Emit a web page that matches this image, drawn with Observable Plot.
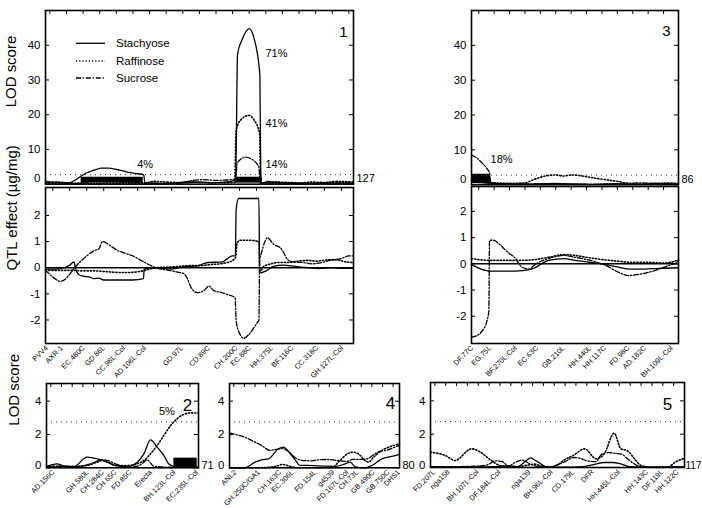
<!DOCTYPE html>
<html><head><meta charset="utf-8">
<script src="https://cdn.jsdelivr.net/npm/d3@7"></script>
<script src="https://cdn.jsdelivr.net/npm/@observablehq/plot@0.6"></script>
<style>
body{margin:0;background:#fff;}
#fig{position:relative;width:702px;height:508px;overflow:hidden;background:#fff;font-family:"Liberation Sans",Arial,sans-serif;-webkit-font-smoothing:antialiased;}
</style></head><body><div id="fig"></div>
<script>
// ---------------- DATA ----------------
const seriesNames = ["Stachyose", "Raffinose", "Sucrose"];
const lodThreshold = 2.75;
const chrLength = {c1: 127, c2: 71, c3: 86, c4: 80, c5: 117};

// chromosome markers (cM)
const chr1Markers = ["PVV4","AXR-1","EC.480C","GD.86L","CC.98L-Col","AD.106L-Col","GD.97L","CD.89C","CH.200C","EC.88C","HH.375L","BF.116C","CC.318C","GH.127L-Col"];
const chr1MarkerCM = [0.8,7,16,24.3,32.6,41.2,56.5,67.6,79,84.5,93.6,101.9,112.2,122.5];
const chr3Markers = ["DF.77C","EG.75L","BF.270L-Col","EC.63C","GB.210L","HH.440L","HH.117C","FD.98C","AD.182C","BH.109L-Col"];
const chr3MarkerCM = [0.5,8,18.5,27.5,38.5,49.5,55.7,65.4,72.3,83.4];
const chr2Markers = ["AD.156C","GH.580L","CH.284C","CH.65C","FD.85C","Erecta","BH.123L-Col","EC.235L-Col"];
const chr2MarkerCM = [3.5,19.5,26.5,32.5,39.5,49,60,70.5];
const chr4Markers = ["ANL2","GH.250C/GA1","CH.163C","EC.306L","FD.154L","g4539","FD.167L-Col","CH.73L","GB.490C","GB.750C","DHS1"];
const chr4MarkerCM = [3,14,24,30,40.7,49,55.7,60.4,68,75,80];
const chr5Markers = ["FD.207L","nga158","BH.107L-Col","DF.184L-Col","nga139","BH.96L-Col","CD.179L","DFR","HH.445L-Col","HH.143C","DF.119L","HH.122C"];
const chr5MarkerCM = [2,8.6,22,32,45.8,56,66,75,87,100,107,114];

// LOD profiles [cM, LOD]
const chr1LodStachyose = [[0,0.8],[3,0.6],[6,0.5],[9,0.4],[11,0.7],[13,1.5],[15,2.5],[17,3.3],[19,3.8],[21,4.3],[23,4.6],[26,4.6],[29,4.3],[32,3.8],[35,3.3],[38,3.0],[40.5,2.7],[41,0.3],[45,0.3],[50,0.2],[55,0.3],[60,0.5],[64,0.6],[68,0.4],[72,0.5],[76,0.7],[78.4,1.5],[79.2,37.5],[81,41.5],[84,44.8],[86,42],[88.4,31.5],[88.8,0.5],[92,0.3],[100,0.3],[110,0.2],[115,0.4],[120,0.3],[127,0.3]];
const chr1LodRaffinose = [[0,0.3],[10,0.3],[20,0.2],[30,0.3],[40,0.3],[45,0.8],[50,0.6],[55,0.5],[60,0.7],[65,0.5],[70,0.4],[78,0.5],[78.6,15.5],[80.5,18.5],[83.8,19.8],[86,18.5],[88.3,14.5],[88.7,0.3],[95,0.6],[100,0.5],[105,0.4],[110,0.6],[115,0.5],[120,0.8],[127,0.6]];
const chr1LodSucrose = [[0,0.5],[6,0.6],[12,0.2],[20,0.9],[25,1.0],[30,0.8],[40,0.4],[50,0.2],[56,0.5],[60,1.0],[65,1.3],[70,1.1],[75,1.2],[78.5,1.5],[79,5.9],[80.5,7.2],[82.5,7.8],[85,7.2],[88,4.9],[88.5,0.3],[92,0.8],[96,0.5],[100,0.3],[110,0.2],[120,0.4],[127,0.5]];

const chr3LodStachyose = [[0,0.8],[8,0.4],[15,0.2],[25,0.1],[34,0.4],[40,0.2],[50,0.1],[60,0.2],[70,0.1],[80,0.2],[86,0.1]];
const chr3LodRaffinose = [[0,1.0],[8,0.6],[15,0.4],[22,0.5],[26,1.5],[30,2.4],[35,2.8],[38,2.5],[42,2.8],[46,2.5],[52,1.8],[58,1.2],[62,0.8],[65,0.3],[70,0.2],[78,0.4],[83,0.5],[86,0.3]];
const chr3LodSucrose = [[0,8.5],[2,7.8],[4,6.5],[6,5],[7.5,3.3],[8,0.5],[12,0.3],[20,0.2],[30,0.3],[40,0.2],[50,0.1],[60,0.3],[70,0.5],[80,0.3],[86,0.2]];

const chr2LodStachyose = [[0,0.08],[4.9,0.24],[8,0.12],[13,0.08],[17.4,0.54],[19,0.64],[23.7,0.54],[28.4,0.34],[32,0.14],[35,0.08],[37.7,0.08],[42.4,0.34],[45.5,0.84],[48.6,1.68],[51.7,1.24],[54.8,0.74],[57,0.24],[59.5,0.08],[63,0.04],[71,0.04]];
const chr2LodRaffinose = [[0,0.08],[13,0.08],[19,0.14],[23.7,0.34],[26,0.44],[28.4,0.34],[33,0.14],[37.7,0.14],[42.4,0.24],[45.5,0.44],[48.6,0.84],[51.7,1.34],[54.8,1.94],[58,2.54],[61,2.94],[64,3.2],[67,3.3],[71,3.28]];
const chr2LodSucrose = [[0,0.06],[4.9,0.1],[13,0.06],[20.6,0.24],[26,0.48],[28.4,0.44],[33,0.2],[37.7,0.06],[42.4,0.1],[45.5,0.34],[47,0.48],[50,0.1],[54,0.05],[60,0.03],[71,0.03]];

const chr4LodStachyose = [[0,0],[7,0],[12,0.34],[15,0.48],[18.4,0.54],[23,1.14],[25.4,1.24],[28.6,0.84],[31.7,0.34],[33,0.14],[36,0.14],[45,0.1],[50,0.08],[54.4,0.24],[56.7,0.34],[59.5,0.04],[63.8,0],[67,0.14],[71.7,0.54],[76.4,0.68],[80,0.8]];
const chr4LodRaffinose = [[0,0],[14,0],[21.5,0.08],[25,0.2],[28.6,0.08],[32,0],[48,0],[52,0.44],[56,0.88],[58.3,0.94],[61,0.8],[63.8,0.44],[65.5,0.34],[67.5,0.6],[71.7,1.04],[75,1.24],[80,1.44]];
const chr4LodSucrose = [[0,2.1],[3,2.0],[7,1.85],[11,1.6],[15,1.35],[19,1.05],[22,1.1],[25,1.15],[28,0.95],[31,0.6],[34,0.45],[38,0.42],[42,0.48],[46,0.5],[50,0.45],[55,0.38],[58,0.5],[62,0.5],[65,0.55],[68,0.8],[71,1.0],[74,1.05],[77,1.2],[80,1.35]];

const chr5LodStachyose = [[0,0.03],[20,0.03],[30,0.05],[36,0.1],[40,0.05],[44,0.4],[46,0.58],[48,0.45],[51,0.2],[53,0.05],[60,0.02],[70,0.05],[76,0.2],[80,0.3],[84,0.3],[88,0.2],[92,0.05],[100,0.02],[117,0.03]];
const chr5LodRaffinose = [[0,0.92],[6.8,0.72],[11.3,0.42],[18.9,1.12],[23,0.92],[28,0.42],[32,0.12],[38.5,0.02],[43,0.1],[48,0.2],[53,0.02],[58,0.1],[61.2,0.42],[65.7,0.72],[71,1.12],[76.3,0.52],[80,0.82],[84.6,2.06],[87.7,1.12],[90.5,1.02],[94,0.52],[97,0.12],[103.5,0],[109.5,0.02],[112.5,0.3],[117,0.55]];
const chr5LodSucrose = [[0,0.05],[10,0.05],[20,0.08],[26,0.15],[30,0.4],[33,0.35],[36,0.1],[39,0.3],[42,0.45],[46,0.2],[50,0.05],[55,0.02],[58,0.15],[62,0.35],[66,0.6],[69,0.55],[72,0.4],[76,0.35],[79,0.8],[82,0.9],[85,0.85],[88,0.8],[91,0.5],[94,0.2],[97,0.05],[105,0.02],[117,0.05]];

// QTL effect profiles [cM, ug/mg]
const chr1EffStachyose = [[0,-0.05],[4,-0.05],[8,0],[10,0.1],[11.7,0.22],[12.6,-0.1],[14,-0.28],[16,-0.33],[18,-0.35],[20,-0.42],[22,-0.4],[24,-0.47],[28,-0.47],[32,-0.47],[36,-0.47],[40.4,-0.42],[40.7,-0.05],[44,0],[48,-0.03],[52,-0.05],[55,0],[58,0.05],[62,0.06],[65,0.15],[67,0.2],[73,0.22],[75,0.35],[77,0.45],[78.3,0.45],[78.6,2.2],[79.6,2.65],[88,2.65],[88.3,-0.2],[91,-0.12],[94,0.05],[98,0.1],[103,0.05],[108,0],[113,-0.03],[118,0],[123,-0.02],[127,-0.02]];
const chr1EffRaffinose = [[0,-0.1],[5,-0.1],[10,-0.1],[15,-0.12],[20,-0.12],[25,-0.15],[30,-0.18],[35,-0.18],[40,-0.12],[43,-0.05],[46,0],[50,0.02],[55,0.05],[60,0.08],[64,0.08],[68,0.12],[72,0.15],[75,0.2],[77.5,0.3],[78.4,0.4],[79,0.95],[80.5,1.05],[84,1.05],[88,1.0],[88.3,-0.15],[90,0.05],[93,0.15],[96,0.2],[100,0.2],[104,0.25],[108,0.28],[112,0.25],[116,0.3],[120,0.3],[124,0.22],[127,0.2]];
const chr1EffSucrose = [[0,-0.1],[3,-0.35],[6,-0.52],[8,-0.45],[10,-0.25],[12,0],[14,0.2],[17,0.45],[20,0.65],[22,0.72],[23.5,1.0],[25,0.95],[27,0.82],[30,0.65],[33,0.55],[36,0.45],[39,0.3],[42,0.15],[45,0.02],[48,-0.06],[51,-0.1],[54,-0.16],[57,-0.22],[58.4,-0.4],[60,-0.75],[62.5,-0.95],[65.3,-0.88],[67.4,-0.7],[69.4,-0.88],[72.8,-0.95],[74.9,-1.02],[78.2,-1.15],[78.6,-2.0],[79.5,-2.4],[81.8,-2.7],[83.9,-2.55],[87.3,-2.1],[88,-2.0],[88.3,0.3],[89,0.55],[90.5,1.0],[91.5,1.15],[94,0.9],[97,0.75],[100,0.3],[102,0.22],[106,0.2],[110,0.15],[114,0.2],[118,0.3],[122,0.35],[125,0.45],[127,0.45]];

const chr3EffStachyose = [[0,-0.03],[4,-0.2],[8,-0.28],[18,-0.28],[25,-0.2],[32,0.13],[38.4,0.2],[43,0.13],[49,0.06],[55.7,-0.03],[61,-0.13],[66,-0.2],[72,-0.2],[78,-0.17],[86,-0.15]];
const chr3EffRaffinose = [[0,0.2],[8,0.13],[18,0.13],[25,0.15],[32,0.25],[38.4,0.35],[43,0.32],[49,0.23],[55.7,0.15],[61,0.1],[66,0.06],[72,0.06],[80,0.03],[85.4,0.13],[86,0.15]];
const chr3EffSucrose = [[0,-2.8],[2,-2.75],[4.5,-2.55],[6.5,-2.15],[7.2,-1.8],[7.5,0.9],[9.3,0.9],[11.4,0.76],[15,0.45],[18.3,0.2],[21,-0.13],[24,-0.2],[26,-0.06],[28,0.06],[32,0.2],[38.4,0.32],[43,0.25],[49.4,0.13],[55.7,-0.06],[61,-0.32],[65.4,-0.45],[68,-0.42],[72,-0.36],[78,-0.2],[82,-0.06],[85.4,0.06],[86,0.15]];

// support-interval bars [start cM, end cM] and LOD span
const chr1CiStart = [14.7, 78.4], chr1CiEnd = [40.3, 89.4], chr1CiLod = [0.3, 2.0];
const chr3CiStart = [0], chr3CiEnd = [7.9], chr3CiLod = [0.3, 3.0];
const chr2CiStart = [59.5], chr2CiEnd = [70.4], chr2CiLod = [0, 0.58];

// explained-variance annotations
const chr1PctText = ["4%", "71%", "41%", "14%"];
const chr1PctCM = [37.8, 90.7, 90.7, 90.7];
const chr1PctLod = [5.7, 37.7, 17.6, 5.7];
const chr3PctText = ["18%"], chr3PctCM = [7.9], chr3PctLod = [7.1];
const chr2PctText = ["5%"], chr2PctCM = [52.5], chr2PctLod = [3.4];

// ---------------- DRAWING ----------------
const FONT = "'Liberation Sans', Arial, sans-serif";
const fig = document.getElementById("fig");
const STY = [
  {stroke: "#000", strokeWidth: 1.3},
  {stroke: "#000", strokeWidth: 1.6, strokeDasharray: "1.2,2"},
  {stroke: "#000", strokeWidth: 1.3, strokeDasharray: "5,1.8,1.3,1.8"}
];

function lines(arrs) {
  return arrs.map((a, k) => Plot.line(a, {x: d => d[0], y: d => d[1], curve: "monotone-x", ...STY[k]}));
}
function ciBars(starts, ends, span) {
  return Plot.rect(starts, {x1: d => d, x2: (d, i) => ends[i], y1: () => span[0], y2: () => span[1], fill: "#000"});
}
function pct(texts, xs, ys) {
  return Plot.text(texts, {x: (d, i) => xs[i], y: (d, i) => ys[i], text: d => d, textAnchor: "start", fontSize: 11, fill: "#000"});
}
function markerLabels(names, pos) {
  return Plot.text(names, {x: (d, i) => pos[i], text: d => d, frameAnchor: "bottom", rotate: -45, textAnchor: "end", dy: 5, dx: 1, fontSize: 7.3, fill: "#000"});
}
function frameAxes(o) {
  const marks = [
    Plot.tickX(d3.range(o.topStart, o.xd[1], o.topStep), {x: d => d, insetBottom: o.h - 4, stroke: "#000"}),
    Plot.tickY(o.yTicks, {y: d => d, insetRight: o.w - 4, stroke: "#000"}),
    Plot.tickY(o.yTicks, {y: d => d, insetLeft: o.w - 4, stroke: "#000"}),
    Plot.text(o.yTicks.filter(d => d !== 0), {y: d => d, text: d => String(d), frameAnchor: "left", textAnchor: "end", dx: -5, fontSize: 11.5, fill: "#000"}),
    Plot.text(o.yTicks.filter(d => d === 0), {y: d => d, text: d => String(d), frameAnchor: "left", textAnchor: "end", dx: -5, dy: o.zeroDy || 0, fontSize: 11.5, fill: "#000"}),
    Plot.frame({stroke: "#000", strokeWidth: 1.6})
  ];
  if (o.len != null) marks.push(Plot.text([o.len], {x: d => d, y: () => 0, text: d => String(d), dx: o.lenDx ?? 3, dy: o.zeroDy || 0, textAnchor: "start", fontSize: o.lenSize || 11, fill: "#000"}));
  if (o.num) marks.push(Plot.text([o.num], {frameAnchor: "top-right", text: d => d, dx: o.numDx, dy: o.numDy, fontSize: o.numSize || 15, textAnchor: "middle", fill: "#000"}));
  if (o.title) marks.push(Plot.text([o.title], {frameAnchor: "left", text: d => d, rotate: -90, dx: o.titleDx, dy: o.titleDy, fontSize: 15, fill: "#000"}));
  return marks;
}
function panel(o) {
  const svg = Plot.plot({
    width: o.w, height: o.h, margin: 0,
    x: {domain: o.xd, axis: null}, y: {domain: o.yd, axis: null},
    marks: [...o.marks, ...frameAxes(o)]
  });
  Object.assign(svg.style, {position: "absolute", left: o.l + "px", top: o.t + "px", overflow: "visible", background: "transparent", fontFamily: FONT, maxWidth: "none"});
  fig.appendChild(svg);
}
const thr = () => Plot.ruleY([lodThreshold], {stroke: "#333", strokeDasharray: "1,4"});

// Chr 1 LOD
panel({l: 45, t: 10, w: 308, h: 173.7, xd: [0, chrLength.c1], yd: [0, 50], yTicks: [0, 10, 20, 30, 40], zeroDy: -5.5,
  topStart: 1.8, topStep: 6.85, len: chrLength.c1, num: "1", numDx: -10, numDy: 16,
  title: "LOD score", titleDx: -34, titleDy: 10,
  marks: [ciBars(chr1CiStart, chr1CiEnd, chr1CiLod), thr(),
    ...lines([chr1LodStachyose, chr1LodRaffinose, chr1LodSucrose]), pct(chr1PctText, chr1PctCM, chr1PctLod)]});
// Chr 1 effect
panel({l: 45, t: 187, w: 308, h: 156, xd: [0, chrLength.c1], yd: [-2.9, 3.07], yTicks: [-2, -1, 0, 1, 2],
  topStart: 3, topStep: 7, title: "QTL effect (µg/mg)", titleDx: -33, titleDy: 5,
  marks: [Plot.ruleY([0], {stroke: "#000", strokeWidth: 1.5}), ...lines([chr1EffStachyose, chr1EffRaffinose, chr1EffSucrose]),
    markerLabels(chr1Markers, chr1MarkerCM)]});
// Chr 3 LOD
panel({l: 471, t: 9.5, w: 207, h: 174.2, xd: [0, chrLength.c3], yd: [0, 50], yTicks: [0, 10, 20, 30, 40], zeroDy: -5.5,
  topStart: 3, topStep: 6.4, len: chrLength.c3, num: "3", numDx: -12, numDy: 15,
  marks: [ciBars(chr3CiStart, chr3CiEnd, chr3CiLod), thr(),
    ...lines([chr3LodStachyose, chr3LodRaffinose, chr3LodSucrose]), pct(chr3PctText, chr3PctCM, chr3PctLod)]});
// Chr 3 effect
panel({l: 471, t: 186, w: 207, h: 157, xd: [0, chrLength.c3], yd: [-3.04, 2.95], yTicks: [-2, -1, 0, 1, 2],
  topStart: 3, topStep: 6.4,
  marks: [Plot.ruleY([0], {stroke: "#000", strokeWidth: 1.5}), ...lines([chr3EffStachyose, chr3EffRaffinose, chr3EffSucrose]),
    markerLabels(chr3Markers, chr3MarkerCM)]});
// Chr 2
panel({l: 46, t: 383, w: 152, h: 84.3, xd: [0, chrLength.c2], yd: [0, 5.06], yTicks: [0, 2, 4], zeroDy: -2,
  topStart: 2, topStep: 5, len: chrLength.c2, num: "2", numDx: -11, numDy: 15, numSize: 17,
  title: "LOD score", titleDx: -32, titleDy: 0,
  marks: [ciBars(chr2CiStart, chr2CiEnd, chr2CiLod), thr(),
    ...lines([chr2LodStachyose, chr2LodRaffinose, chr2LodSucrose]), pct(chr2PctText, chr2PctCM, chr2PctLod),
    markerLabels(chr2Markers, chr2MarkerCM)]});
// Chr 4
panel({l: 229.3, t: 383, w: 170, h: 84.3, xd: [0, chrLength.c4], yd: [0, 5.06], yTicks: [0, 2, 4], zeroDy: -2,
  topStart: 2, topStep: 5, len: chrLength.c4, num: "4", numDx: -9, numDy: 13, numSize: 17,
  marks: [thr(), ...lines([chr4LodStachyose, chr4LodRaffinose, chr4LodSucrose]), markerLabels(chr4Markers, chr4MarkerCM)]});
// Chr 5
panel({l: 430, t: 382, w: 254, h: 85, xd: [0, chrLength.c5], yd: [0, 5.1], yTicks: [0, 2, 4], zeroDy: -2,
  topStart: 2, topStep: 5, len: chrLength.c5, lenDx: 1, lenSize: 10, num: "5", numDx: -17, numDy: 15, numSize: 17,
  marks: [thr(), ...lines([chr5LodStachyose, chr5LodRaffinose, chr5LodSucrose]), markerLabels(chr5Markers, chr5MarkerCM)]});

// Legend (inside panel 1)
const NS = "http://www.w3.org/2000/svg";
const leg = document.createElementNS(NS, "svg");
leg.setAttribute("width", 702); leg.setAttribute("height", 508);
Object.assign(leg.style, {position: "absolute", left: "0px", top: "0px", pointerEvents: "none"});
const legY = [43.3, 61, 78];
seriesNames.forEach((name, i) => {
  const ln = document.createElementNS(NS, "line");
  ln.setAttribute("x1", 76); ln.setAttribute("x2", 105); ln.setAttribute("y1", legY[i]); ln.setAttribute("y2", legY[i]);
  ln.setAttribute("stroke", "#000"); ln.setAttribute("stroke-width", STY[i].strokeWidth);
  if (STY[i].strokeDasharray) ln.setAttribute("stroke-dasharray", STY[i].strokeDasharray);
  leg.appendChild(ln);
  const tx = document.createElementNS(NS, "text");
  tx.setAttribute("x", 116); tx.setAttribute("y", legY[i]); tx.setAttribute("dy", "0.35em");
  tx.setAttribute("font-size", 11.5); tx.setAttribute("font-family", "Liberation Sans, Arial, sans-serif");
  tx.textContent = name;
  leg.appendChild(tx);
});
fig.appendChild(leg);
</script></body></html>
